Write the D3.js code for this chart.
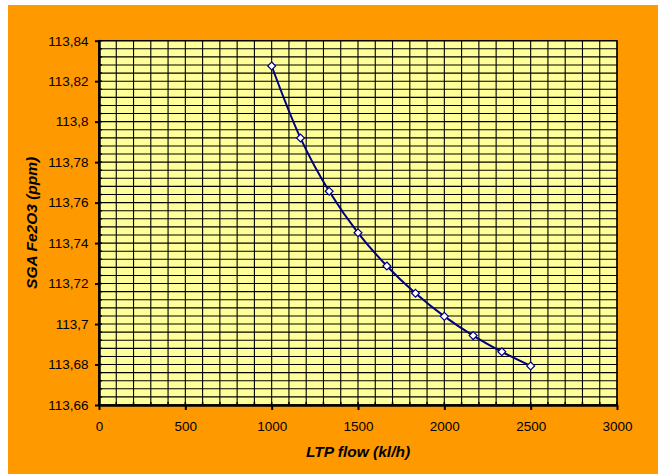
<!DOCTYPE html>
<html>
<head>
<meta charset="utf-8">
<script src="https://cdn.jsdelivr.net/npm/d3@7"></script>
<style>
  html, body { margin: 0; padding: 0; background: #ffffff; }
  svg { display: block; font-family: "Liberation Sans", Arial, sans-serif; }
</style>
</head>
<body>
<svg id="chart" width="658" height="474"></svg>
<script>
// LTP flow (kl/h) against SGA Fe2O3 (ppm)
const flow = [1000, 1167, 1333, 1500, 1667, 1833, 2000, 2167, 2333, 2500];
const fe2o3 = [113.8275, 113.7919, 113.7656, 113.7451, 113.7287, 113.7152, 113.7038, 113.6943, 113.6863, 113.6793];

const xTicks = [0, 500, 1000, 1500, 2000, 2500, 3000];
const yTicks = [113.66, 113.68, 113.70, 113.72, 113.74, 113.76, 113.78, 113.80, 113.82, 113.84];
const xLabel = "LTP flow (kl/h)";
const yLabel = "SGA Fe2O3 (ppm)";

const svg = d3.select("#chart");
const W = 658, H = 474;
const plot = { left: 99, right: 617, top: 40.7, bottom: 405 };

// chart background
svg.append("rect")
  .attr("x", 8).attr("y", 5).attr("width", W - 8).attr("height", H - 5)
  .attr("fill", "#ff9900");

const x = d3.scaleLinear().domain([0, 3000]).range([plot.left, plot.right]);
const y = d3.scaleLinear().domain([113.66, 113.84]).range([plot.bottom, plot.top]);

// plot area
svg.append("rect")
  .attr("x", plot.left).attr("y", plot.top)
  .attr("width", plot.right - plot.left).attr("height", plot.bottom - plot.top)
  .attr("fill", "#ffff99");

// grid: every 100 on x, every 0.004 on y
const xGrid = d3.range(0, 3001, 100);
const yGrid = d3.range(0, 46).map(i => 113.66 + i * 0.004);

const grid = svg.append("g").attr("stroke", "#000").attr("stroke-width", 1.1);
grid.selectAll("line.v").data(xGrid).join("line")
  .attr("class", "v")
  .attr("x1", d => x(d)).attr("x2", d => x(d))
  .attr("y1", plot.top).attr("y2", plot.bottom);
grid.selectAll("line.h").data(yGrid).join("line")
  .attr("class", "h")
  .attr("x1", plot.left).attr("x2", plot.right)
  .attr("y1", d => y(d)).attr("y2", d => y(d));

// plot border
svg.append("rect")
  .attr("x", plot.left).attr("y", plot.top)
  .attr("width", plot.right - plot.left).attr("height", plot.bottom - plot.top)
  .attr("fill", "none").attr("stroke", "#000").attr("stroke-width", 1.3);

// minor ticks (inside)
const minor = svg.append("g").attr("stroke", "#000").attr("stroke-width", 1.5);
minor.selectAll("line.mx").data(xGrid).join("line")
  .attr("x1", d => x(d)).attr("x2", d => x(d))
  .attr("y1", plot.bottom).attr("y2", plot.bottom - 3);
minor.selectAll("line.my").data(yGrid).join("line")
  .attr("x1", plot.left).attr("x2", plot.left + 3)
  .attr("y1", d => y(d)).attr("y2", d => y(d));

// axes
const fmtY = d => d3.format("")(+d.toFixed(2)).replace(".", ",");
const xAxis = d3.axisBottom(x).tickValues(xTicks).tickSize(5).tickSizeOuter(0).tickPadding(11).tickFormat(d3.format("d"));
const yAxis = d3.axisLeft(y).tickValues(yTicks).tickSize(4).tickSizeOuter(0).tickPadding(6.5).tickFormat(fmtY);

const gx = svg.append("g").attr("transform", `translate(0,${plot.bottom})`).call(xAxis);
const gy = svg.append("g").attr("transform", `translate(${plot.left},0)`).call(yAxis);
[gx, gy].forEach(g => {
  g.attr("font-size", null).attr("font-family", null);
  g.select(".domain").attr("stroke", "#000").attr("stroke-width", 2.5);
  g.selectAll(".tick line").attr("stroke", "#000").attr("stroke-width", 2);
  g.selectAll(".tick text").attr("fill", "#000")
    .style("font-size", "13.5px")
    .style("font-family", "'Liberation Sans', Arial, sans-serif");
});

// axis titles
svg.append("text")
  .attr("x", x(1500)).attr("y", 457)
  .attr("text-anchor", "middle")
  .style("font-size", "15.5px").attr("font-weight", "bold").attr("font-style", "italic")
  .text(xLabel);
svg.append("text")
  .attr("transform", `translate(37,${(plot.top + plot.bottom) / 2}) rotate(-90)`)
  .attr("text-anchor", "middle")
  .style("font-size", "15.5px").attr("font-weight", "bold").attr("font-style", "italic")
  .text(yLabel);

// series line
const data = flow.map((f, i) => [f, fe2o3[i]]);
const line = d3.line().x(d => x(d[0])).y(d => y(d[1])).curve(d3.curveCatmullRom.alpha(0.5));
svg.append("path")
  .datum(data)
  .attr("d", line)
  .attr("fill", "none").attr("stroke", "#000080").attr("stroke-width", 2);

// markers
const diamond = d3.symbol().type(d3.symbolDiamond2).size(40);
svg.selectAll("path.marker").data(data).join("path")
  .attr("class", "marker")
  .attr("d", diamond)
  .attr("transform", d => `translate(${x(d[0])},${y(d[1])})`)
  .attr("fill", "#fff").attr("stroke", "#000080").attr("stroke-width", 1.2);
</script>
</body>
</html>
